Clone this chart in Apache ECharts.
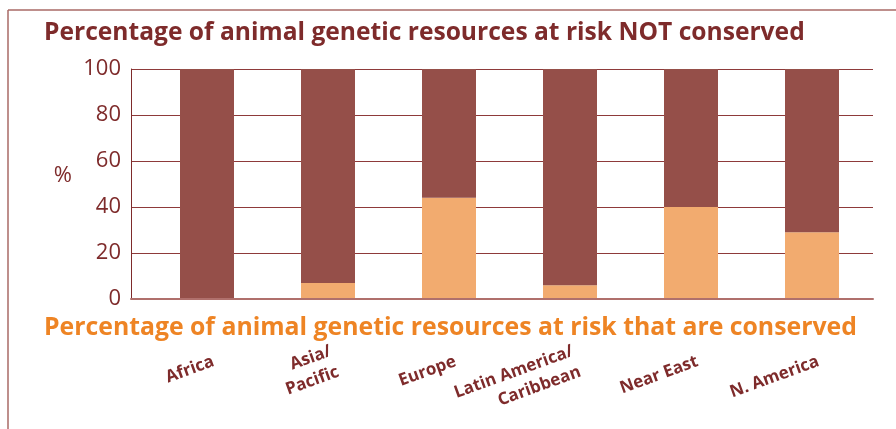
<!DOCTYPE html>
<html><head><meta charset="utf-8">
<script src="https://cdn.jsdelivr.net/npm/echarts@6/dist/echarts.min.js"></script>
<style>html,body{margin:0;padding:0;background:#fff}#c{width:896px;height:429px}</style>
</head><body><div id="c"></div>
<script>
const categories = ['Africa', 'Asia/\nPacific', 'Europe', 'Latin America/\nCaribbean', 'Near East', 'N. America'];
const conserved = [0, 7, 44, 6, 40, 29];
const notConserved = [100, 93, 56, 94, 60, 71];
const yTicks = [0, 20, 40, 60, 80, 100];

const dark = '#7E2B2B';
const chart = echarts.init(document.getElementById('c'));
chart.setOption({
  animation: false,
  title: [
    {text: 'Percentage of animal genetic resources at risk NOT conserved', left: 39, top: 15,
     textStyle: {color: dark, fontFamily: 'Open Sans', fontWeight: 'bold', fontSize: 24.6}},
    {text: 'Percentage of animal genetic resources at risk that are conserved', left: 39, top: 310,
     textStyle: {color: '#EE8424', fontFamily: 'Open Sans', fontWeight: 'bold', fontSize: 24.8}}
  ],
  graphic: [
    {type: 'line', shape: {x1: 8, y1: 10, x2: 896, y2: 10}, style: {stroke: '#A86A66', lineWidth: 1.5}},
    {type: 'line', shape: {x1: 8, y1: 10, x2: 8, y2: 429}, style: {stroke: '#A86A66', lineWidth: 1.5}}
  ],
  grid: [
    {left: 131, right: 23, top: 69, bottom: 130},
    {left: 146.5, right: 23.5, top: 69, bottom: 130},
    {left: 153, right: 17, top: 69, bottom: 130}
  ],
  xAxis: [
    {gridIndex: 0, type: 'category', data: ['x'], z: 5,
     axisLine: {show: true, lineStyle: {color: '#B0706C', width: 2}}, axisTick: {show: false}, axisLabel: {show: false}},
    {gridIndex: 1, type: 'category', data: categories,
     axisLine: {show: false}, axisTick: {show: false}, axisLabel: {show: false}},
    {gridIndex: 2, type: 'category', data: categories,
     axisLine: {show: false}, axisTick: {show: false},
     axisLabel: {rotate: 20, margin: 62, color: dark, fontFamily: 'Open Sans', fontWeight: 'bold', fontSize: 17, lineHeight: 22}}
  ],
  yAxis: [
    {gridIndex: 0, type: 'value', min: 0, max: 100, interval: 20,
     name: '%', nameLocation: 'middle', nameRotate: 0, nameGap: 59,
     nameTextStyle: {color: dark, fontFamily: 'Open Sans', fontSize: 22, lineHeight: 16, verticalAlign: 'bottom'},
     axisLine: {show: true, lineStyle: {color: dark, width: 1}}, axisTick: {show: false},
     axisLabel: {color: dark, fontFamily: 'Open Sans', fontSize: 22, margin: 10,
       formatter: v => yTicks.includes(v) ? String(v) : ''},
     splitLine: {lineStyle: {color: '#8E3A3A', width: 1}}},
    {gridIndex: 1, type: 'value', min: 0, max: 100, show: false},
    {gridIndex: 2, type: 'value', min: 0, max: 100, show: false}
  ],
  series: [
    {type: 'bar', xAxisIndex: 1, yAxisIndex: 1, stack: 's', data: conserved, barWidth: 54,
     itemStyle: {color: '#F2AB6F'}},
    {type: 'bar', xAxisIndex: 1, yAxisIndex: 1, stack: 's', data: notConserved, barWidth: 54,
     itemStyle: {color: '#954F49'}}
  ]
});
</script></body></html>
